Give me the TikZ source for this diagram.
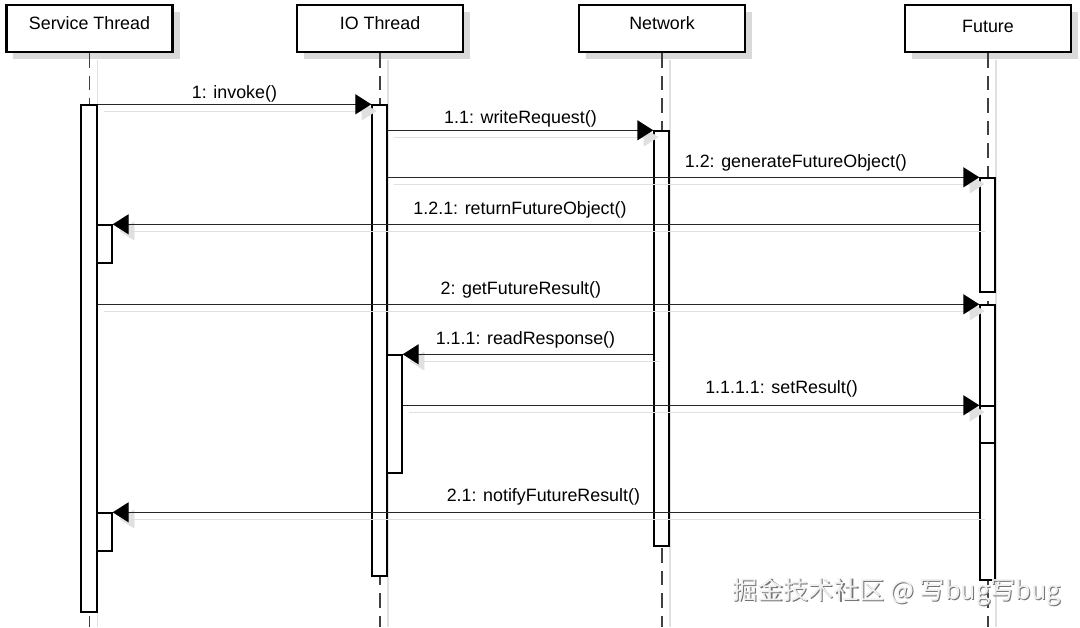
\documentclass[tikz,border=0pt]{standalone}
\usepackage{fontspec}
\setmainfont{Liberation Sans}
\newfontfamily\cjkfont{Noto Sans CJK SC}
\usepackage{tikz}
\usetikzlibrary{arrows.meta, fit, shadows}
\tikzstyle{head} = [rectangle, draw=black, line width=1.6pt, fill=white, minimum width=4.15cm, minimum height=1.175cm, text height=9pt, text depth=7pt, drop shadow={shadow xshift=0.175cm, shadow yshift=-0.175cm, fill=black!15, opacity=1}]
\tikzstyle{life} = [draw=black!75, line width=0.8pt, dash pattern=on 10.5pt off 5.5pt]
\tikzstyle{lifeshadow} = [draw=black!12, line width=0.8pt]
\tikzstyle{bar} = [rectangle, draw=black, line width=1pt, fill=white, inner sep=0pt]
\tikzstyle{msg} = [draw=black!85, line width=1pt, -{Triangle[length=0.4cm, width=0.5cm, color=black]}, preaction={draw=black!12, -{Triangle[length=0.4cm, width=0.5cm, color=black!12]}, transform canvas={xshift=0.15cm, yshift=-0.17cm}}]
\tikzstyle{lbl} = [above, inner sep=2pt]
\tikzstyle{wmark} = [font=\cjkfont\fontsize{18}{20}\selectfont]

\begin{document}
\begin{tikzpicture}[x=0.025cm, y=-0.025cm, font=\fontsize{12.7}{15}\selectfont]
		\useasboundingbox (0,0) rectangle (1080,627);
		\fill[white] (0,0) rectangle (1080,627);
		% heads
		\node (st) [head] at (89.5,28.5) {Service Thread};
		\node (io) [head] at (380,28.5) {IO Thread};
		\node (net) [head] at (662,28.5) {Network};
		\node (fut) [head, text depth=3pt] at (988,28.5) {Future};
		% lifelines
		\foreach \n in {st,io,net,fut} {
			\draw [lifeshadow] ([xshift=0.2cm, yshift=-0.175cm]\n.south) -- ([xshift=0.2cm]\n.south |- 0,627);
			\draw [life] (\n.south) -- (\n.south |- 0,627);
		}
		% activations
		\node (stBar) [bar, fit={(81,105) (97,612)}] {};
		\node (stSub1) [bar, fit={(97,225) (112,263)}] {};
		\node (stSub2) [bar, fit={(97,513) (112,551)}] {};
		\node (ioBar) [bar, fit={(372,105) (387,576)}] {};
		\node (ioSub) [bar, fit={(387,355) (402,473)}] {};
		\node (netBar) [bar, fit={(654,131) (669,546)}] {};
		\node (futBar1) [bar, fit={(980,178) (995,292)}] {};
		\node (futBar2) [bar, fit={(980,305) (995,580)}] {};
		\node (futSub) [bar, fit={(980,406) (995,443)}] {};
		% messages
		\draw [msg] (stBar.north east) -- node[lbl, yshift=-1pt] {1: invoke()} (ioBar.north west);
		\draw [msg] (ioBar.east |- netBar.north) -- node[lbl] {1.1: writeRequest()} (netBar.north west);
		\draw [msg] (ioBar.east |- futBar1.north) -- node[lbl, pos=0.69, yshift=2pt] {1.2: generateFutureObject()} (futBar1.north west);
		\draw [msg] (futBar1.west |- stSub1.north) -- node[lbl, pos=0.53, yshift=1.5pt] {1.2.1: returnFutureObject()} (stSub1.north east);
		\draw [msg] (stBar.east |- futBar2.north) -- node[lbl, pos=0.48, yshift=2pt] {2: getFutureResult()} (futBar2.north west);
		\draw [msg] (netBar.west |- ioSub.north) -- node[lbl, pos=0.51, yshift=1.5pt] {1.1.1: readResponse()} (ioSub.north east);
		\draw [msg] (ioSub.east |- futSub.north) -- node[lbl, pos=0.657, yshift=3pt] {1.1.1.1: setResult()} (futSub.north west);
		\draw [msg] (futBar2.west |- stSub2.north) -- node[lbl, pos=0.503, yshift=2.5pt] {2.1: notifyFutureResult()} (stSub2.north east);
		% watermark
		\node (wmShadow) [wmark, text=black!55] at (898,593) {掘金技术社区 @ 写bug写bug};
		\node (wm) [wmark, text=black!6] at ([xshift=-0.03cm, yshift=0.03cm]wmShadow.center) {掘金技术社区 @ 写bug写bug};
	\end{tikzpicture}
\end{document}
